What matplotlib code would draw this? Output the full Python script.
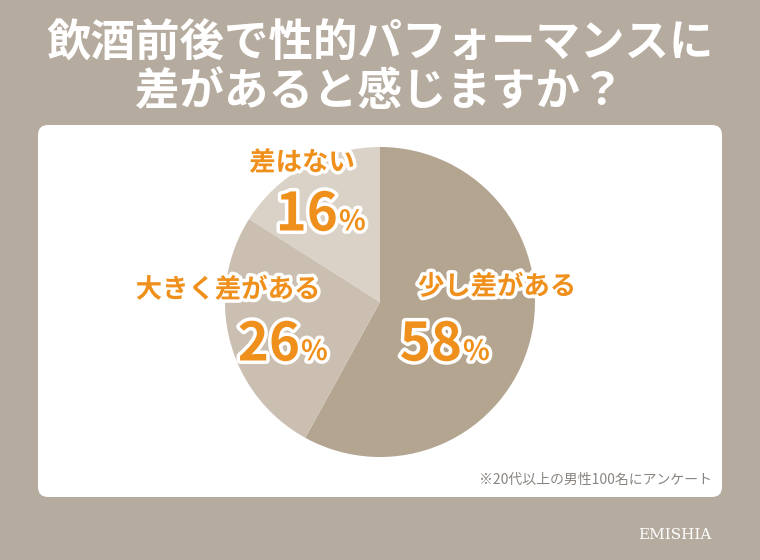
import matplotlib
matplotlib.use("Agg")
import matplotlib.pyplot as plt
from matplotlib.patches import FancyBboxPatch
import matplotlib.patheffects as pe

plt.rcParams['font.family'] = ['Noto Sans CJK JP', 'DejaVu Sans']

labels = ["少し差がある", "大きく差がある", "差はない"]
values = [58, 26, 16]
colors = ["#b4a590", "#cbbfb1", "#dbd2c7"]
title = "飲酒前後で性的パフォーマンスに\n差があると感じますか？"
note = "※20代以上の男性100名にアンケート"

W, H = 760, 560
fig = plt.figure(figsize=(7.6, 5.6), dpi=100)
fig.patch.set_facecolor("#b6ab9f")

bg = fig.add_axes([0, 0, 1, 1]); bg.set_xlim(0, W); bg.set_ylim(H, 0); bg.axis("off")
bg.add_patch(FancyBboxPatch((38, 125), 684, 372, boxstyle="round,pad=0,rounding_size=10",
                            fc="white", ec="none"))
bg.text(380, 68, title, ha="center", va="center", color="white", fontsize=32,
        fontweight="bold", linespacing=1.05)
bg.text(712, 480, note, ha="right", va="center", color="#8a8580", fontsize=10)
bg.text(712, 535, "EMISHIA", ha="right", va="center", color="white", fontsize=11, family="serif")

r = 155
ax = fig.add_axes([(380 - r) / W, 1 - (302 + r) / H, 2 * r / W, 2 * r / H])
ax.pie(values, colors=colors, startangle=90, counterclock=False,
       wedgeprops=dict(linewidth=0))
ax.set_xlim(-1, 1); ax.set_ylim(-1, 1)
ax.set_aspect("equal")

top = fig.add_axes([0, 0, 1, 1]); top.set_xlim(0, W); top.set_ylim(H, 0); top.axis("off")
top.patch.set_alpha(0)

orange = "#f0901c"
eff = [pe.withStroke(linewidth=5, foreground="white")]
pos = [(497, 287, 462, 345), (228, 290, 300, 345), (302, 163, 338, 215)]
for (lx, ly, px, py), lab, v in zip(pos, labels, values):
    top.text(lx, ly, lab, ha="center", va="center", color=orange, fontsize=19,
             fontweight="bold", path_effects=eff)
    top.text(px, py, f"{v}", ha="right", va="center", color=orange, fontsize=38,
             fontweight="bold", path_effects=eff)
    top.text(px + 1, py + 7, "%", ha="left", va="center", color=orange, fontsize=20,
             fontweight="bold", path_effects=eff)

fig.savefig("out.png", dpi=100, facecolor=fig.get_facecolor())
